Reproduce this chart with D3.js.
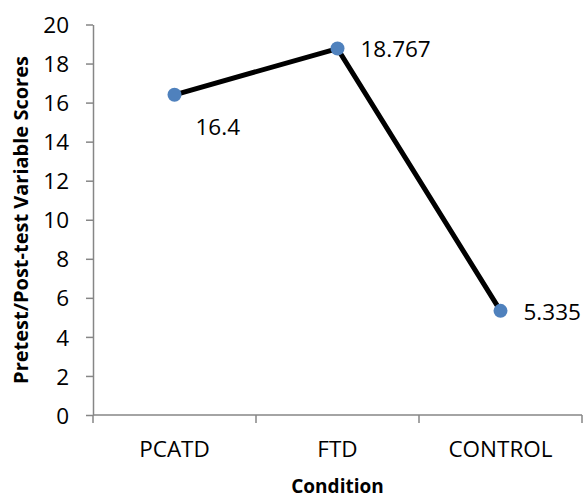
<!DOCTYPE html>
<html>
<head>
<meta charset="utf-8">
<script src="https://cdn.jsdelivr.net/npm/d3@7"></script>
<style>
  body { margin: 0; background: #fff; }
  text { font-family: "Open Sans", sans-serif; }
</style>
</head>
<body>
<div id="chart"></div>
<script>
// chart data
const conditions = ["PCATD", "FTD", "CONTROL"];
const scores = [16.4, 18.767, 5.335];
const scoreLabels = ["16.4", "18.767", "5.335"];
const yTicks = [0, 2, 4, 6, 8, 10, 12, 14, 16, 18, 20];

const width = 585, height = 498;
const margin = {top: 24.5, right: 3, bottom: 83, left: 93};

const svg = d3.select("#chart").append("svg")
    .attr("width", width)
    .attr("height", height);

const x = d3.scaleBand()
    .domain(conditions)
    .range([margin.left, width - margin.right]);

const y = d3.scaleLinear()
    .domain([0, 20])
    .range([height - margin.bottom, margin.top]);

const axisColor = "#868686";

// y axis
const yAxis = svg.append("g")
    .attr("transform", `translate(${margin.left},0)`)
    .call(d3.axisLeft(y).tickValues(yTicks).tickSize(7).tickPadding(17).tickSizeOuter(0));
yAxis.select(".domain").attr("stroke", axisColor).attr("stroke-width", 1.5);
yAxis.selectAll(".tick line").attr("stroke", axisColor).attr("stroke-width", 1.5);
yAxis.selectAll(".tick text")
    .attr("fill", "#000")
    .style("font-size", "22.5px")
    .attr("dy", "0.36em");

// x axis with boundary ticks between categories
const xAxisG = svg.append("g")
    .attr("transform", `translate(0,${y(0)})`);
xAxisG.append("line")
    .attr("x1", margin.left).attr("x2", width - margin.right)
    .attr("stroke", axisColor).attr("stroke-width", 1.5);
const bounds = conditions.map(c => x(c)).concat([x(conditions[conditions.length - 1]) + x.bandwidth()]);
xAxisG.selectAll(".bound")
    .data(bounds)
    .join("line")
    .attr("x1", d => d).attr("x2", d => d)
    .attr("y1", 0).attr("y2", 8)
    .attr("stroke", axisColor).attr("stroke-width", 1.5);
xAxisG.selectAll(".cat")
    .data(conditions)
    .join("text")
    .attr("x", d => x(d) + x.bandwidth() / 2)
    .attr("y", 42)
    .attr("text-anchor", "middle")
    .style("font-size", "22.5px")
    .text(d => d);

// axis titles
svg.append("text")
    .attr("x", x(conditions[1]) + x.bandwidth() / 2)
    .attr("y", 493)
    .attr("text-anchor", "middle")
    .style("font-size", "19px")
    .style("font-weight", "bold")
    .text("Condition");

svg.append("text")
    .attr("transform", "translate(28,220) rotate(-90)")
    .attr("text-anchor", "middle")
    .style("font-size", "20px")
    .style("font-weight", "bold")
    .text("Pretest/Post-test Variable Scores");

// line + markers
const pts = conditions.map((c, i) => ({c, v: scores[i], label: scoreLabels[i]}));
const cx = d => x(d.c) + x.bandwidth() / 2;

svg.append("path")
    .datum(pts)
    .attr("fill", "none")
    .attr("stroke", "#000")
    .attr("stroke-width", 5)
    .attr("d", d3.line().x(cx).y(d => y(d.v)));

svg.selectAll(".dot")
    .data(pts)
    .join("circle")
    .attr("cx", cx)
    .attr("cy", d => y(d.v))
    .attr("r", 7)
    .attr("fill", "#4f81bd");

// data labels: first one sits below-right, others to the right
const labelOffset = [[21, 40], [23, 8.5], [23, 9]];
svg.selectAll(".lbl")
    .data(pts)
    .join("text")
    .attr("x", (d, i) => cx(d) + labelOffset[i][0])
    .attr("y", (d, i) => y(d.v) + labelOffset[i][1])
    .style("font-size", "22.5px")
    .text(d => d.label);
</script>
</body>
</html>
